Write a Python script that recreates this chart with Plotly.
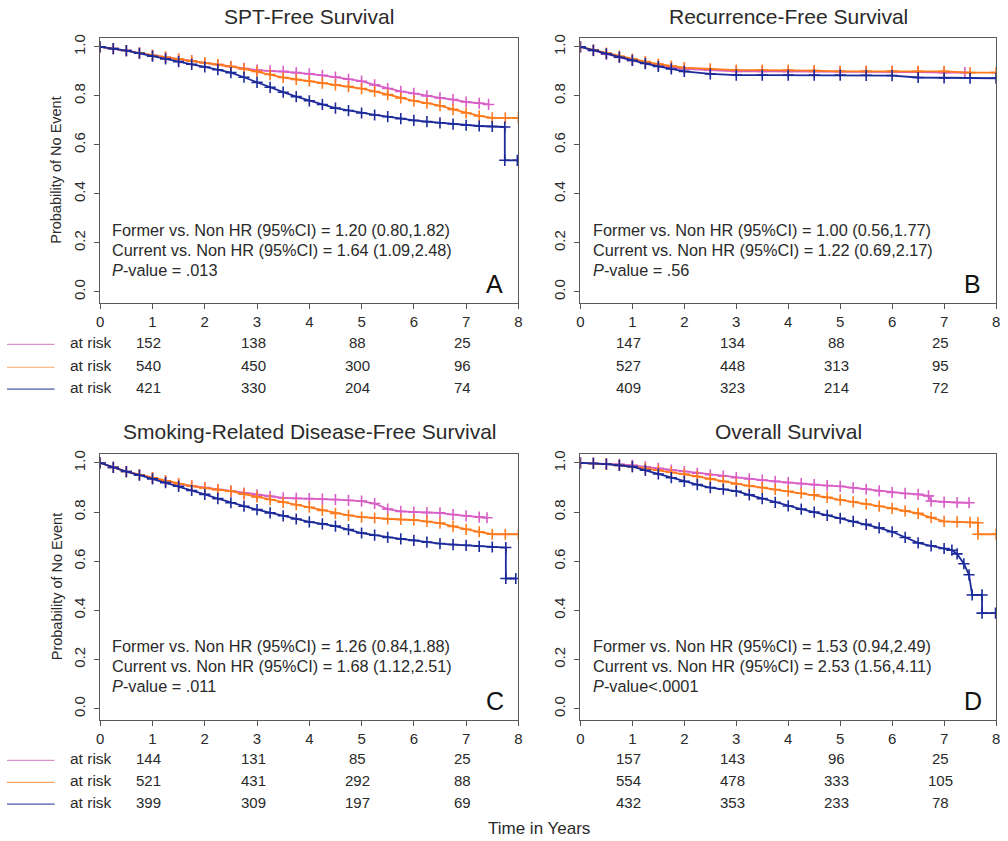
import plotly.graph_objects as go

# ---------------- data ----------------
x_ticks = [0, 1, 2, 3, 4, 5, 6, 7, 8]
y_ticks = [0.0, 0.2, 0.4, 0.6, 0.8, 1.0]
risk_years = [1, 3, 5, 7]

panel_titles = ["SPT-Free Survival", "Recurrence-Free Survival",
                "Smoking-Related Disease-Free Survival", "Overall Survival"]
panel_letters = ["A", "B", "C", "D"]
hr_former = ["Former vs. Non HR (95%CI) = 1.20 (0.80,1.82)",
             "Former vs. Non HR (95%CI) = 1.00 (0.56,1.77)",
             "Former vs. Non HR (95%CI) = 1.26 (0.84,1.88)",
             "Former vs. Non HR (95%CI) = 1.53 (0.94,2.49)"]
hr_current = ["Current vs. Non HR (95%CI) = 1.64 (1.09,2.48)",
              "Current vs. Non HR (95%CI) = 1.22 (0.69,2.17)",
              "Current vs. Non HR (95%CI) = 1.68 (1.12,2.51)",
              "Current vs. Non HR (95%CI) = 2.53 (1.56,4.11)"]
p_values = ["<i>P</i>-value = .013", "<i>P</i>-value = .56",
            "<i>P</i>-value = .011", "<i>P</i>-value<.0001"]

# Panel A: SPT-free survival
a_never_t = [0, .25, .5, .75, 1, 1.25, 1.5, 1.75, 2, 2.25, 2.5, 2.75, 3, 3.25, 3.5, 3.75, 4, 4.25, 4.5,
             4.75, 5, 5.25, 5.5, 5.75, 6, 6.25, 6.5, 6.75, 7, 7.25, 7.43]
a_never_s = [1, .993, .985, .975, .965, .958, .95, .943, .935, .928, .92, .912, .905, .902, .9, .895, .89,
             .884, .877, .868, .86, .845, .83, .818, .81, .8, .792, .785, .775, .77, .765]
a_former_t = [0, .25, .5, .75, 1, 1.25, 1.5, 1.75, 2, 2.25, 2.5, 2.75, 3, 3.25, 3.5, 3.75, 4, 4.25, 4.5,
              4.75, 5, 5.25, 5.5, 5.75, 6, 6.25, 6.5, 6.75, 7, 7.25, 7.5, 7.75, 8]
a_former_s = [1, .993, .985, .975, .965, .958, .95, .943, .935, .928, .92, .91, .9, .887, .875, .867, .86,
              .852, .845, .838, .83, .818, .805, .792, .78, .77, .76, .745, .73, .718, .71, .71, .71]
a_current_t = [0, .25, .5, .75, 1, 1.25, 1.5, 1.75, 2, 2.25, 2.5, 2.75, 3, 3.25, 3.5, 3.75, 4, 4.25, 4.5,
               4.75, 5, 5.25, 5.5, 5.75, 6, 6.25, 6.5, 6.75, 7, 7.25, 7.5, 7.74, 7.74, 7.98]
a_current_s = [1, .993, .985, .974, .962, .951, .94, .929, .918, .907, .895, .876, .855, .835, .815, .797,
               .78, .765, .75, .74, .73, .722, .715, .707, .7, .695, .69, .685, .68, .677, .675, .673,
               .537, .537]
a_risk_never = [152, 138, 88, 25]
a_risk_former = [540, 450, 300, 96]
a_risk_current = [421, 330, 204, 74]

# Panel B: recurrence-free survival
b_never_t = [0, .25, .5, .75, 1, 1.25, 1.5, 1.75, 2, 2.5, 3, 3.5, 4, 4.5, 5, 5.5, 6, 6.5, 7, 7.4]
b_never_s = [1, .985, .97, .957, .945, .935, .925, .917, .91, .905, .9, .9, .9, .9, .9, .9, .9, .897,
             .895, .895]
b_former_t = [0, .25, .5, .75, 1, 1.25, 1.5, 1.75, 2, 2.5, 3, 3.5, 4, 4.5, 5, 5.5, 6, 6.5, 7, 7.5, 8]
b_former_s = [1, .988, .975, .962, .95, .94, .93, .922, .915, .91, .905, .905, .905, .903, .9, .9, .9,
              .9, .9, .895, .895]
b_current_t = [0, .25, .5, .75, 1, 1.25, 1.5, 1.75, 2, 2.5, 3, 3.5, 4, 4.5, 5, 5.5, 6, 6.5, 7, 7.5, 8]
b_current_s = [1, .986, .972, .958, .945, .932, .92, .91, .9, .89, .885, .885, .885, .885, .885, .884,
               .883, .875, .873, .872, .872]
b_risk_never = [147, 134, 88, 25]
b_risk_former = [527, 448, 313, 95]
b_risk_current = [409, 323, 214, 72]

# Panel C: smoking-related disease-free survival
c_never_t = [0, .25, .5, .75, 1, 1.25, 1.5, 1.75, 2, 2.25, 2.5, 2.75, 3, 3.25, 3.5, 3.75, 4, 4.25, 4.5,
             4.75, 5, 5.25, 5.5, 5.75, 6, 6.25, 6.5, 6.75, 7, 7.25, 7.4]
c_never_s = [1, .982, .965, .952, .94, .927, .915, .907, .9, .892, .885, .877, .87, .864, .858, .856,
             .855, .853, .851, .848, .845, .835, .812, .803, .8, .798, .797, .79, .785, .78, .777]
c_former_t = [0, .25, .5, .75, 1, 1.25, 1.5, 1.75, 2, 2.25, 2.5, 2.75, 3, 3.25, 3.5, 3.75, 4, 4.25, 4.5,
              4.75, 5, 5.25, 5.5, 5.75, 6, 6.25, 6.5, 6.75, 7, 7.25, 7.5, 7.75, 8]
c_former_s = [1, .982, .965, .952, .94, .927, .915, .906, .898, .891, .885, .873, .862, .851, .84, .83,
              .82, .807, .795, .787, .78, .776, .772, .77, .768, .762, .755, .742, .73, .72, .71, .71, .71]
c_current_t = [0, .25, .5, .75, 1, 1.25, 1.5, 1.75, 2, 2.25, 2.5, 2.75, 3, 3.25, 3.5, 3.75, 4, 4.25,
               4.5, 4.75, 5, 5.25, 5.5, 5.75, 6, 6.25, 6.5, 6.75, 7, 7.25, 7.5, 7.76, 7.76, 7.95]
c_current_s = [1, .982, .965, .95, .935, .92, .905, .888, .872, .855, .838, .824, .81, .797, .785, .772,
               .76, .752, .743, .729, .715, .706, .697, .691, .685, .678, .672, .668, .665, .661, .658,
               .656, .53, .53]
c_risk_never = [144, 131, 85, 25]
c_risk_former = [521, 431, 292, 88]
c_risk_current = [399, 309, 197, 69]

# Panel D: overall survival
d_never_t = [0, .25, .5, .75, 1, 1.25, 1.5, 1.75, 2, 2.25, 2.5, 2.75, 3, 3.25, 3.5, 3.75, 4, 4.25, 4.5,
             4.75, 5, 5.25, 5.5, 5.75, 6, 6.25, 6.5, 6.7, 6.75, 7, 7.25, 7.48]
d_never_s = [1, .999, .997, .994, .99, .984, .978, .971, .965, .958, .952, .946, .94, .935, .93, .925,
             .92, .916, .912, .908, .905, .899, .893, .886, .88, .876, .872, .866, .845, .841, .839, .838]
d_former_t = [0, .25, .5, .75, 1, 1.25, 1.5, 1.75, 2, 2.25, 2.5, 2.75, 3, 3.25, 3.5, 3.75, 4, 4.25, 4.5,
              4.75, 5, 5.25, 5.5, 5.75, 6, 6.25, 6.5, 6.75, 7, 7.25, 7.5, 7.65, 7.65, 8]
d_former_s = [1, .998, .995, .99, .985, .978, .97, .962, .955, .945, .935, .925, .915, .907, .9, .892,
              .885, .877, .87, .86, .85, .842, .833, .824, .815, .805, .795, .778, .762, .76, .758, .757,
              .71, .71]
d_current_t = [0, .25, .5, .75, 1, 1.25, 1.5, 1.75, 2, 2.25, 2.5, 2.75, 3, 3.25, 3.5, 3.75, 4, 4.25, 4.5,
               4.75, 5, 5.25, 5.5, 5.75, 6, 6.25, 6.5, 6.75, 7, 7.15, 7.25, 7.38, 7.48, 7.54, 7.73, 7.73,
               7.99]
d_current_s = [1, .998, .995, .99, .985, .97, .955, .94, .925, .912, .9, .893, .885, .87, .855, .84, .825,
               .812, .8, .787, .775, .762, .75, .736, .72, .697, .675, .663, .652, .645, .63, .59, .545,
               .463, .463, .389, .389]
d_risk_never = [157, 143, 96, 25]
d_risk_former = [554, 478, 333, 105]
d_risk_current = [432, 353, 233, 78]

# ---------------- styling ----------------
W, H = 1008, 841
COL_NEVER = "#d95ec6"
COL_FORMER = "#ff7a1c"
COL_CURRENT = "#1c2a9a"
LEG_COLS = ["#dc92cc", "#f4a66a", "#4a58a8"]
FONT = "Liberation Sans, Arial, sans-serif"
TXT = "#2a2a2a"


def px_x(p):
    return p / W


def px_y(p):
    return 1 - p / H


panels = [
    dict(curves=[(a_never_t, a_never_s, COL_NEVER), (a_former_t, a_former_s, COL_FORMER),
                 (a_current_t, a_current_s, COL_CURRENT)],
         risk=[a_risk_never, a_risk_former, a_risk_current],
         xd=(97, 518.5), yd=(34, 300), rows=(340, 363, 385), title_y=13, lab="left"),
    dict(curves=[(b_never_t, b_never_s, COL_NEVER), (b_former_t, b_former_s, COL_FORMER),
                 (b_current_t, b_current_s, COL_CURRENT)],
         risk=[b_risk_never, b_risk_former, b_risk_current],
         xd=(581, 1000), yd=(34, 300), rows=(340, 363, 385), title_y=13, lab="right"),
    dict(curves=[(c_never_t, c_never_s, COL_NEVER), (c_former_t, c_former_s, COL_FORMER),
                 (c_current_t, c_current_s, COL_CURRENT)],
         risk=[c_risk_never, c_risk_former, c_risk_current],
         xd=(97, 518.5), yd=(452, 719), rows=(758, 780, 802), title_y=430, lab="left"),
    dict(curves=[(d_never_t, d_never_s, COL_NEVER), (d_former_t, d_former_s, COL_FORMER),
                 (d_current_t, d_current_s, COL_CURRENT)],
         risk=[d_risk_never, d_risk_former, d_risk_current],
         xd=(581, 1000), yd=(452, 719), rows=(758, 780, 802), title_y=430, lab="right"),
]

fig = go.Figure()
annotations = []
shapes = []
layout_axes = {}

for i, p in enumerate(panels):
    n = "" if i == 0 else str(i + 1)
    xa, ya = "x" + n, "y" + n
    for t, s, col in p["curves"]:
        fig.add_trace(go.Scatter(
            x=t, y=s, xaxis=xa, yaxis=ya, mode="lines+markers",
            line=dict(color=col, width=1.8),
            marker=dict(symbol="cross-thin", size=8, color=col,
                        line=dict(color=col, width=1.6)),
            showlegend=False, hoverinfo="skip"))
    x0, x1 = p["xd"]
    y0, y1 = p["yd"]
    layout_axes["xaxis" + n] = dict(
        domain=[px_x(x0), px_x(x1)], range=[0, 8], anchor=ya,
        tickvals=x_ticks, ticktext=[str(v) for v in x_ticks],
        ticks="outside", ticklen=5, tickcolor="#555", tickwidth=1,
        showline=True, linecolor="#5a5a5a", linewidth=1, mirror=True,
        showgrid=False, zeroline=False,
        tickfont=dict(family=FONT, size=15, color=TXT))
    layout_axes["yaxis" + n] = dict(
        domain=[px_y(y1), px_y(y0)], range=[-0.044, 1.037], anchor=xa,
        tickvals=y_ticks, ticktext=["%.1f" % v for v in y_ticks], tickangle=-90,
        ticks="outside", ticklen=5, tickcolor="#555", tickwidth=1,
        showline=True, linecolor="#5a5a5a", linewidth=1, mirror=True,
        showgrid=False, zeroline=False, ticklabelstandoff=3,
        tickfont=dict(family=FONT, size=15, color=TXT))

    # title
    annotations.append(dict(text=panel_titles[i], xref="paper", yref="paper",
                            x=px_x((x0 + x1) / 2), y=px_y(p["title_y"]),
                            xanchor="center", yanchor="middle", showarrow=False,
                            font=dict(family=FONT, size=21, color=TXT)))
    # HR text
    for k, txt in enumerate([hr_former[i], hr_current[i], p_values[i]]):
        annotations.append(dict(text=txt, xref=xa, yref="paper",
                                x=0.19 if p["lab"] == "left" else 0.2,
                                y=px_y(y0 + 193 + 20 * k),
                                xanchor="left", yanchor="middle", showarrow=False,
                                font=dict(family=FONT, size=16.3, color=TXT)))
    # panel letter
    annotations.append(dict(text=panel_letters[i], xref=xa, yref="paper",
                            x=7.55, y=px_y(y1 - 19), xanchor="center", yanchor="middle",
                            showarrow=False, font=dict(family=FONT, size=25, color="#111")))
    # y-axis title
    if p["lab"] == "left":
        annotations.append(dict(text="Probability of No Event", xref="paper", yref="paper",
                                x=px_x(53), y=px_y((y0 + y1) / 2), textangle=-90,
                                xanchor="center", yanchor="middle", showarrow=False,
                                font=dict(family=FONT, size=14.5, color=TXT)))
    # at-risk table
    for r, (vals, row_y) in enumerate(zip(p["risk"], p["rows"])):
        for yr, v in zip(risk_years, vals):
            annotations.append(dict(text=str(v), xref=xa, yref="paper", x=yr,
                                    y=px_y(row_y), xanchor="center", yanchor="middle",
                                    xshift=-4, showarrow=False,
                                    font=dict(family=FONT, size=15, color=TXT)))
        if p["lab"] == "left":
            annotations.append(dict(text="at risk", xref="paper", yref="paper",
                                    x=px_x(111), y=px_y(row_y), xanchor="right",
                                    yanchor="middle", showarrow=False,
                                    font=dict(family=FONT, size=15.5, color=TXT)))
            shapes.append(dict(type="line", xref="paper", yref="paper",
                               x0=px_x(3), x1=px_x(51), y0=px_y(row_y + 2), y1=px_y(row_y + 2),
                               line=dict(color=LEG_COLS[r], width=1.2)))

annotations.append(dict(text="Time in Years", xref="paper", yref="paper",
                        x=px_x(539), y=px_y(828), xanchor="center", yanchor="middle",
                        showarrow=False, font=dict(family=FONT, size=17, color=TXT)))

fig.update_layout(width=W, height=H, margin=dict(l=0, r=0, t=0, b=0),
                  paper_bgcolor="white", plot_bgcolor="white",
                  annotations=annotations, shapes=shapes, **layout_axes)

fig.write_html("out.html", config={"displayModeBar": False},
               post_script="document.body.style.margin='0';document.body.style.padding='0';"
                           "document.body.style.overflow='hidden';")
